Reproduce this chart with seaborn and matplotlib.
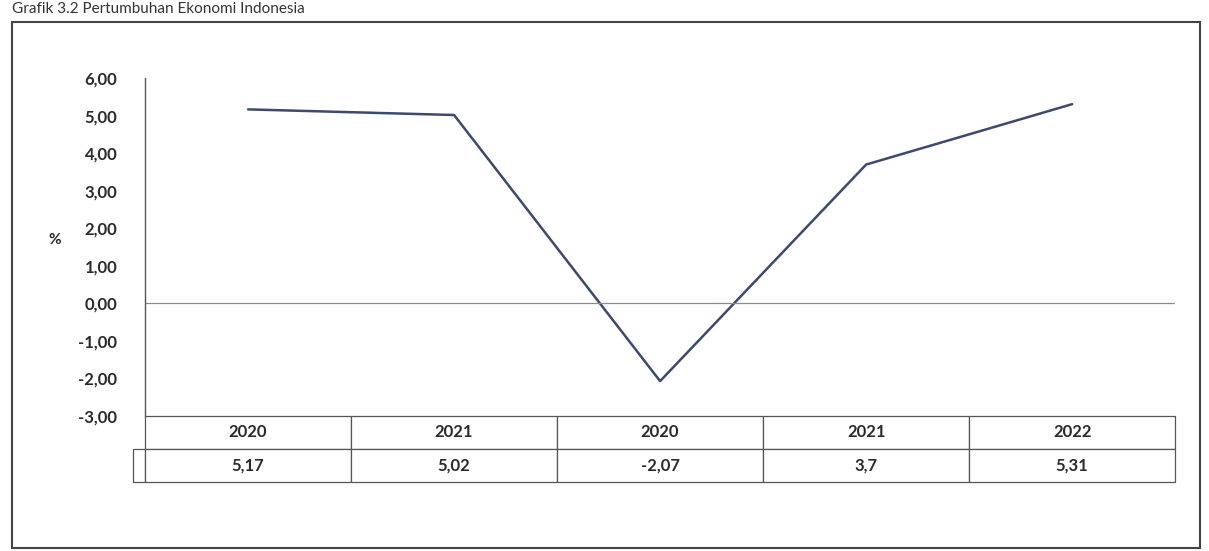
import matplotlib
matplotlib.use("Agg")
import matplotlib.pyplot as plt
import seaborn as sns
import pandas as pd
from matplotlib.patches import Rectangle

# data
tahun = ["2020", "2021", "2020", "2021", "2022"]
pertumbuhan = [5.17, 5.02, -2.07, 3.7, 5.31]
label_nilai = ["5,17", "5,02", "-2,07", "3,7", "5,31"]
yticks = [6, 5, 4, 3, 2, 1, 0, -1, -2, -3]

sns.set_theme(style="white")
plt.rcParams['font.family'] = ['Lato', 'DejaVu Sans']

df = pd.DataFrame({"pos": range(len(tahun)), "nilai": pertumbuhan})

fig = plt.figure(figsize=(12.09, 5.51), dpi=100)
ax = fig.add_axes([0.12, 0.245, 0.852, 0.613])

sns.lineplot(data=df, x="pos", y="nilai", ax=ax, color="#3b4a6e", linewidth=1.8)
ax.axhline(0, color="#8a8a8a", linewidth=0.9)

ax.set_xlim(-0.5, len(tahun) - 0.5)
ax.set_ylim(-3, 6)
ax.set_yticks(yticks)
ax.set_yticklabels([f"{v:.2f}".replace(".", ",") for v in yticks],
                   fontsize=12, fontweight="bold", color="#2a2a2a")
ax.tick_params(axis="y", length=0, pad=20)
ax.set_xticks([])
ax.set_xlabel("")
ax.set_ylabel("%", rotation=0, fontsize=11, fontweight="bold",
              color="#2a2a2a", labelpad=35)
ax.yaxis.set_label_coords(-0.088, 0.5)

for s in ["top", "right", "bottom"]:
    ax.spines[s].set_visible(False)
ax.spines["left"].set_color("#555555")
ax.spines["left"].set_linewidth(1.0)

# data table under the plot
tbl = ax.table(cellText=[[""] + tahun, [""] + label_nilai],
               cellLoc="center",
               colWidths=[0.012] + [0.2] * 5,
               bbox=[-0.012, -0.195, 1.012, 0.195])
tbl.auto_set_font_size(False)
for (r, c), cell in tbl.get_celld().items():
    cell.set_edgecolor("#555555")
    cell.set_linewidth(0.9)
    cell.get_text().set_fontsize(12)
    cell.get_text().set_fontweight("bold")
    cell.get_text().set_color("#2a2a2a")
tbl[0, 0].visible_edges = ""

# outer frame and title
fig.patches.append(Rectangle((12 / 1209, 3 / 551), 1188 / 1209, 526 / 551,
                             transform=fig.transFigure, fill=False,
                             edgecolor="#444444", linewidth=1.5))
fig.text(12 / 1209, 1 - 2 / 551, "Grafik 3.2 Pertumbuhan Ekonomi Indonesia",
         fontsize=11, color="#333333", ha="left", va="top")

fig.savefig("out.png", dpi=100)
